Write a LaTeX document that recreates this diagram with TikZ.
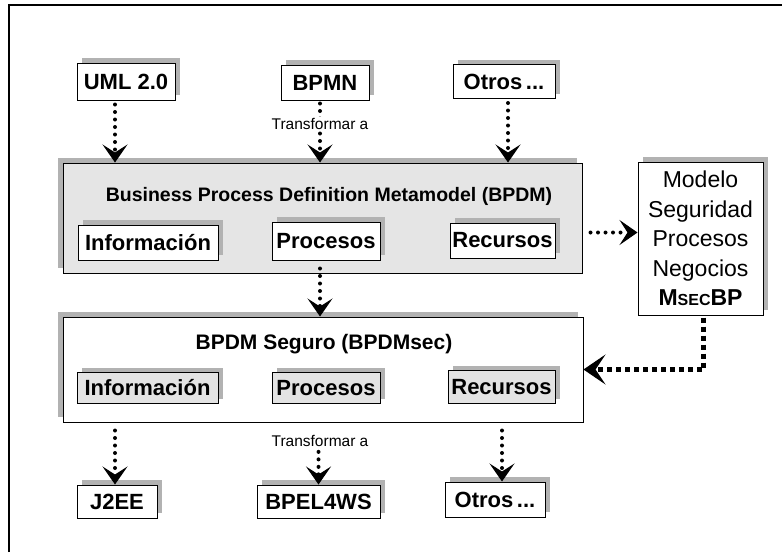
\documentclass[tikz,border=0pt]{standalone}
\usepackage{fontspec}
\setmainfont{Liberation Sans}
\usetikzlibrary{arrows.meta,shadows,calc}
\begin{document}
\begin{tikzpicture}[x=1pt,y=-1pt,
  box/.style={draw=black, line width=1pt, fill=white, inner sep=0pt,
    font=\bfseries\fontsize{22}{24}\selectfont,
    general shadow={fill=gray!60, shadow xshift=5pt, shadow yshift=5pt}},
  graybox/.style={box, fill=gray!22},
  bigbox/.style={draw=black, line width=1pt, inner sep=0pt,
    general shadow={fill=gray!60, shadow xshift=-5pt, shadow yshift=5pt}},
  lbl/.style={font=\fontsize{15.5}{17}\selectfont, fill=white, inner sep=1pt},
  ttl/.style={font=\bfseries\fontsize{19.5}{21}\selectfont, inner sep=0pt},
  dotarrow/.style={line width=4pt, line cap=round, dash pattern=on 0pt off 7.5pt,
    -{Stealth[length=18pt,width=25pt,inset=8pt,line width=1pt]}},
  sqarrow/.style={line width=4.5pt, dash pattern=on 5pt off 4pt,
    -{Stealth[length=22pt,width=30pt,inset=10pt,line width=1pt]}}
]
\useasboundingbox (0,0) rectangle (782,552);
% outer frame (only top and left edges visible)
\draw[line width=1.5pt] (9,552) -- (9,5) -- (782,5);

% top sources
\node[box, minimum width=98pt, minimum height=37pt] (uml) at (126,81.5) {UML 2.0};
\node[box, minimum width=88pt, minimum height=35pt] (bpmn) at (325,82.5) {BPMN};
\node[box, minimum width=102pt, minimum height=34pt] (otros1) at (504,81.5) {Otros\,...};

% BPDM
\node[bigbox, fill=gray!20, minimum width=519pt, minimum height=110pt] (bpdm) at (322.5,218) {};
\node[ttl] (bpdmt) at (329,196) {Business Process Definition Metamodel (BPDM)};
\node[box, minimum width=140pt, minimum height=35pt] (info1) at (148,242.5) {Información};
\node[box, minimum width=108pt, minimum height=38pt] (proc1) at (326,241) {Procesos};
\node[box, minimum width=105pt, minimum height=35pt] (rec1) at (502.5,240.5) {Recursos};

% Modelo
\node[box, minimum width=125pt, minimum height=153pt, align=center,
      font=\fontsize{23}{29.5}\selectfont] (modelo) at (700.5,238.5)
  {Modelo\\Seguridad\\Procesos\\Negocios\\\textbf{M{\fontsize{16}{16}\selectfont SEC}BP}};

% BPDMsec
\node[bigbox, fill=white, minimum width=520pt, minimum height=105pt] (bpdmsec) at (323,369.5) {};
\node[ttl, font=\bfseries\fontsize{21}{23}\selectfont] (bpdmsect) at (324,344) {BPDM Seguro (BPDMsec)};
\node[graybox, minimum width=141pt, minimum height=31pt] (info2) at (147.5,388) {Información};
\node[graybox, minimum width=108pt, minimum height=31pt] (proc2) at (326,388) {Procesos};
\node[graybox, minimum width=107pt, minimum height=33pt] (rec2) at (501.5,387) {Recursos};

% targets
\node[box, minimum width=80pt, minimum height=33pt] (j2ee) at (117,501.5) {J2EE};
\node[box, minimum width=123pt, minimum height=33pt] (bpel) at (318.5,501.5) {BPEL4WS};
\node[box, minimum width=100pt, minimum height=35pt] (otros2) at (495,499.5) {Otros\,...};

% connectors top
\draw[dotarrow, shorten <=4pt] ([xshift=-11pt]uml.south) -- ([xshift=-11pt]uml.south |- bpdm.north);
\draw[dotarrow, shorten <=3pt] ([xshift=-5pt]bpmn.south) -- ([xshift=-5pt]bpmn.south |- bpdm.north);
\node[lbl] (t1) at (320,124) {Transformar a};
\draw[dotarrow, shorten <=4pt] ([xshift=4pt]otros1.south) -- ([xshift=4pt]otros1.south |- bpdm.north);

% BPDM -> BPDMsec
\draw[dotarrow, shorten <=8pt] ([xshift=-6pt]proc1.south) -- ([xshift=-6pt]proc1.south |- bpdmsec.north);

% Recursos -> Modelo
\draw[dotarrow, shorten <=8pt] ([yshift=8pt]bpdm.east |- rec1.center) -- ([yshift=8pt]modelo.west |- rec1.center);

% Modelo -> BPDMsec
\draw[sqarrow, shorten <=2pt] ([xshift=3pt]modelo.south) |- (bpdmsec.east);

% bottom connectors
\draw[dotarrow, shorten <=8pt] ([xshift=-2pt]j2ee.north |- bpdmsec.south) -- ([xshift=-2pt]j2ee.north);
\node[lbl] (t2) at (320,441) {Transformar a};
\draw[dotarrow, shorten <=4pt] (t2.south -| bpel.north) -- (bpel.north);
\draw[dotarrow, shorten <=8pt] ([xshift=7pt]otros2.north |- bpdmsec.south) -- ([xshift=7pt]otros2.north);
\end{tikzpicture}
\end{document}
